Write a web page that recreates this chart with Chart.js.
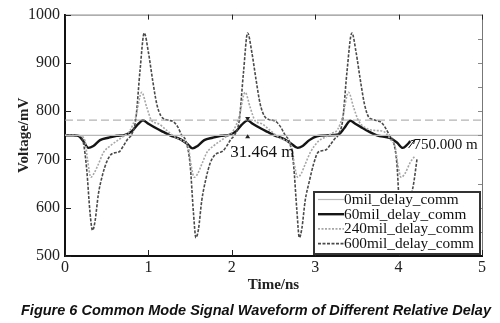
<!DOCTYPE html>
<html><head><meta charset="utf-8">
<script src="https://cdn.jsdelivr.net/npm/chart.js@4.4.1/dist/chart.umd.min.js"></script>
<style>html,body{margin:0;padding:0;background:#fff;}#wrap{width:500px;height:323px;}</style>
</head><body><div id="wrap"><canvas id="c" width="500" height="323"></canvas></div>
<script>
const xTicks = [0, 1, 2, 3, 4, 5];
const yTicks = [500, 600, 700, 800, 900, 1000];
const rightTicks = [550, 600, 650, 700, 750, 800, 850, 900, 950];
const seriesLabels = ['0mil_delay_comm', '60mil_delay_comm', '240mil_delay_comm', '600mil_delay_comm'];

const t0mil = [0, 5];
const v0mil = [750, 750];

const t60mil = [0, 0.10, 0.16, 0.22, 0.28, 0.34, 0.42, 0.52, 0.62, 0.72, 0.80, 0.87, 0.935, 1.00, 1.10, 1.18, 1.26, 1.38, 1.46, 1.53,
  1.59, 1.67, 1.77, 1.87, 1.97, 2.05, 2.12, 2.19, 2.25, 2.35, 2.43, 2.51, 2.63, 2.71, 2.79,
  2.85, 2.93, 3.02, 3.15, 3.28, 3.35, 3.42, 3.48, 3.54, 3.64, 3.74, 3.90, 3.98, 4.05, 4.10, 4.14];
const v60mil = [750, 750, 749, 738, 724, 728, 740, 745, 749, 751, 758, 772, 781, 774, 764, 757, 750, 742, 733, 723,
  728, 740, 745, 749, 751, 758, 772, 781, 774, 764, 757, 750, 742, 733, 724,
  728, 740, 748, 750, 752, 765, 780, 774, 768, 758, 750, 744, 735, 724, 730, 738];

const t240mil = [0, 0.10, 0.18, 0.24, 0.27, 0.31, 0.35, 0.40, 0.46, 0.54, 0.62, 0.70, 0.78, 0.85, 0.92, 0.98, 1.04, 1.12, 1.22, 1.34, 1.42, 1.48, 1.51, 1.55,
  1.59, 1.64, 1.70, 1.78, 1.86, 1.94, 2.02, 2.09, 2.16, 2.22, 2.28, 2.36, 2.46, 2.58, 2.66, 2.72, 2.75, 2.79,
  2.83, 2.88, 2.94, 3.04, 3.12, 3.20, 3.27, 3.33, 3.40, 3.46, 3.52, 3.62, 3.72, 3.82, 3.90, 3.96, 3.99, 4.03, 4.08, 4.14, 4.20];
const v240mil = [750, 750, 749, 738, 700, 663, 672, 690, 714, 728, 738, 748, 760, 790, 839, 808, 780, 774, 760, 744, 738, 725, 690, 663,
  670, 690, 714, 728, 738, 748, 760, 790, 839, 808, 780, 774, 760, 744, 738, 725, 690, 663,
  670, 690, 714, 738, 746, 754, 762, 790, 839, 808, 780, 764, 760, 758, 742, 725, 690, 663, 672, 694, 708];

const t600mil = [0, 0.10, 0.18, 0.22, 0.26, 0.30, 0.33, 0.36, 0.40, 0.45, 0.50, 0.55, 0.60, 0.65, 0.70, 0.75, 0.80, 0.85, 0.90, 0.95, 1.00, 1.05, 1.10, 1.15, 1.20, 1.25, 1.30, 1.35, 1.40, 1.45, 1.50, 1.54, 1.57,
  1.60, 1.64, 1.69, 1.74, 1.79, 1.84, 1.89, 1.94, 1.99, 2.04, 2.09, 2.14, 2.19, 2.24, 2.29, 2.34, 2.39, 2.44, 2.49, 2.54, 2.59, 2.64, 2.69, 2.74, 2.78, 2.81,
  2.84, 2.88, 2.93, 2.98, 3.03, 3.08, 3.13, 3.18, 3.23, 3.28, 3.33, 3.38, 3.44, 3.49, 3.54, 3.59, 3.64, 3.69, 3.74, 3.79, 3.84, 3.89, 3.94, 3.98, 4.01, 4.04, 4.08, 4.13, 4.18, 4.22];
const v600mil = [750, 750, 749, 735, 680, 590, 553, 572, 628, 668, 695, 710, 714, 716, 728, 742, 752, 785, 885, 962, 922, 865, 815, 790, 783, 781, 778, 768, 750, 738, 690, 590, 538,
  555, 615, 660, 692, 708, 714, 717, 728, 742, 752, 782, 880, 962, 922, 866, 815, 790, 783, 781, 777, 766, 750, 737, 690, 595, 538,
  557, 615, 655, 690, 714, 718, 720, 730, 742, 752, 782, 880, 962, 922, 866, 815, 788, 783, 780, 777, 766, 750, 735, 690, 600, 540, 560, 610, 650, 700];

const markerT = [0, 5];
const markerV = [781.464, 781.464];
const noteTexts = ['31.464 m', '750.000 m'];
const noteT = [1.98, 4.18];
const noteV = [715, 730];

const pts = (ts, vs) => ts.map((t, i) => ({x: t, y: vs[i]}));
const serif = '"Liberation Serif", "Times New Roman", serif';

const datasets = [
  {label: seriesLabels[0], data: pts(t0mil, v0mil), borderColor: '#b8b8b8', borderWidth: 1.2},
  {label: '', data: pts(markerT, markerV), borderColor: '#a0a0a0', borderWidth: 1, borderDash: [8, 4]},
  {label: seriesLabels[2], data: pts(t240mil, v240mil), borderColor: '#a6a6a6', borderWidth: 1.6, borderDash: [2, 1.5]},
  {label: seriesLabels[3], data: pts(t600mil, v600mil), borderColor: '#4a4a4a', borderWidth: 1.6, borderDash: [3, 1.5]},
  {label: seriesLabels[1], data: pts(t60mil, v60mil), borderColor: '#151515', borderWidth: 2.4}
];
const legendOrder = [0, 4, 2, 3];

const decor = {
  id: 'decor',
  afterDatasetsDraw(chart) {
    const {ctx, chartArea: a, scales: {x, y}} = chart;
    ctx.save();
    ctx.strokeStyle = '#777'; ctx.lineWidth = 1;
    ctx.beginPath(); ctx.moveTo(a.left, a.top + 0.5); ctx.lineTo(a.right + 0.5, a.top + 0.5); ctx.lineTo(a.right + 0.5, a.bottom); ctx.stroke();
    ctx.strokeStyle = '#222'; ctx.lineWidth = 1;
    ctx.beginPath();
    yTicks.forEach(v => { const py = Math.round(y.getPixelForValue(v)) + 0.5; ctx.moveTo(a.left, py); ctx.lineTo(a.left + 6, py); });
    xTicks.forEach(v => { const px = Math.round(x.getPixelForValue(v)) + 0.5; ctx.moveTo(px, a.bottom); ctx.lineTo(px, a.bottom - 6); ctx.moveTo(px, a.top); ctx.lineTo(px, a.top + 5); });
    ctx.stroke();
    ctx.strokeStyle = '#888';
    ctx.beginPath();
    rightTicks.forEach(v => { const py = Math.round(y.getPixelForValue(v)) + 0.5; ctx.moveTo(a.right, py); ctx.lineTo(a.right - 4, py); });
    ctx.stroke();
    const mx = x.getPixelForValue(2.19);
    ctx.fillStyle = '#222';
    const my1 = y.getPixelForValue(markerV[0]), my2 = y.getPixelForValue(750);
    ctx.beginPath(); ctx.moveTo(mx - 2.5, my1 - 3); ctx.lineTo(mx + 2.5, my1 - 3); ctx.lineTo(mx, my1 + 1); ctx.fill();
    ctx.beginPath(); ctx.moveTo(mx - 2.5, my2 + 3); ctx.lineTo(mx + 2.5, my2 + 3); ctx.lineTo(mx, my2 - 1); ctx.fill();
    ctx.fillStyle = '#111'; ctx.textBaseline = 'middle'; ctx.textAlign = 'left';
    ctx.font = '17px ' + serif;
    ctx.fillText(noteTexts[0], x.getPixelForValue(noteT[0]), y.getPixelForValue(noteV[0]));
    ctx.font = '15px ' + serif;
    const nx = x.getPixelForValue(noteT[1]), ny = y.getPixelForValue(noteV[1]);
    ctx.fillText(noteTexts[1], nx, ny);
    ctx.strokeStyle = '#111'; ctx.lineWidth = 1;
    ctx.beginPath(); ctx.moveTo(nx + 1, ny - 5); ctx.lineTo(nx - 5, ny + 3); ctx.stroke();
    ctx.beginPath(); ctx.moveTo(nx + 1, ny - 5); ctx.lineTo(nx - 3, ny - 4); ctx.moveTo(nx + 1, ny - 5); ctx.lineTo(nx, ny - 1); ctx.stroke();
    const lx = 313, ly = 191, lw = 168, lh = 64;
    ctx.fillStyle = '#fff'; ctx.fillRect(lx, ly, lw, lh);
    ctx.strokeStyle = '#333'; ctx.lineWidth = 2; ctx.setLineDash([]);
    ctx.strokeRect(lx + 1, ly + 1, lw - 2, lh - 2);
    ctx.font = '15.3px ' + serif; ctx.fillStyle = '#111'; ctx.textBaseline = 'middle';
    legendOrder.forEach((di, i) => {
      const ds = chart.data.datasets[di];
      const ry = ly + 8.5 + i * 14.7;
      ctx.save();
      ctx.strokeStyle = ds.borderColor; ctx.lineWidth = ds.borderWidth; ctx.setLineDash(ds.borderDash || []);
      ctx.beginPath(); ctx.moveTo(lx + 5, ry); ctx.lineTo(lx + 31, ry); ctx.stroke();
      ctx.restore();
      ctx.fillText(ds.label, lx + 31, ry + 0.5);
    });
    ctx.restore();
  },
  afterDraw(chart) {
    const ctx = chart.ctx;
    ctx.save();
    ctx.fillStyle = '#111'; ctx.textAlign = 'center'; ctx.textBaseline = 'middle';
    ctx.font = 'italic bold 14.5px "Liberation Sans", Arial, sans-serif';
    ctx.fillText('Figure 6 Common Mode Signal Waveform of Different Relative Delay', 256, 311);
    ctx.restore();
  }
};

new Chart(document.getElementById('c'), {
  type: 'line',
  data: {datasets},
  options: {
    responsive: false, animation: false, devicePixelRatio: 1,
    layout: {padding: {top: 8, right: 18, left: 0, bottom: 20}},
    plugins: {legend: {display: false}, tooltip: {enabled: false}},
    elements: {point: {radius: 0}, line: {cubicInterpolationMode: 'monotone', fill: false}},
    scales: {
      x: {
        type: 'linear', min: 0, max: 5,
        afterBuildTicks: s => { s.ticks = xTicks.map(v => ({value: v})); },
        ticks: {font: {family: serif, size: 16}, color: '#222', padding: 2, maxRotation: 0, callback: v => String(v)},
        grid: {display: false, drawTicks: false},
        border: {display: true, color: '#111', width: 2},
        title: {display: true, text: 'Time/ns', font: {family: serif, size: 15, weight: 'bold'}, color: '#222', padding: {top: 0, bottom: 9}},
        afterFit: s => { s.height = 47; }
      },
      y: {
        type: 'linear', min: 500, max: 1000,
        afterBuildTicks: s => { s.ticks = yTicks.map(v => ({value: v})); },
        ticks: {font: {family: serif, size: 16}, color: '#222', padding: 5, callback: v => String(v)},
        grid: {display: false, drawTicks: false},
        border: {display: true, color: '#111', width: 2},
        title: {display: true, text: 'Voltage/mV', font: {family: serif, size: 15, weight: 'bold'}, color: '#222', padding: {top: 15, bottom: 0}},
        afterFit: s => { s.width = 65; }
      }
    }
  },
  plugins: [decor]
});
</script></body></html>
